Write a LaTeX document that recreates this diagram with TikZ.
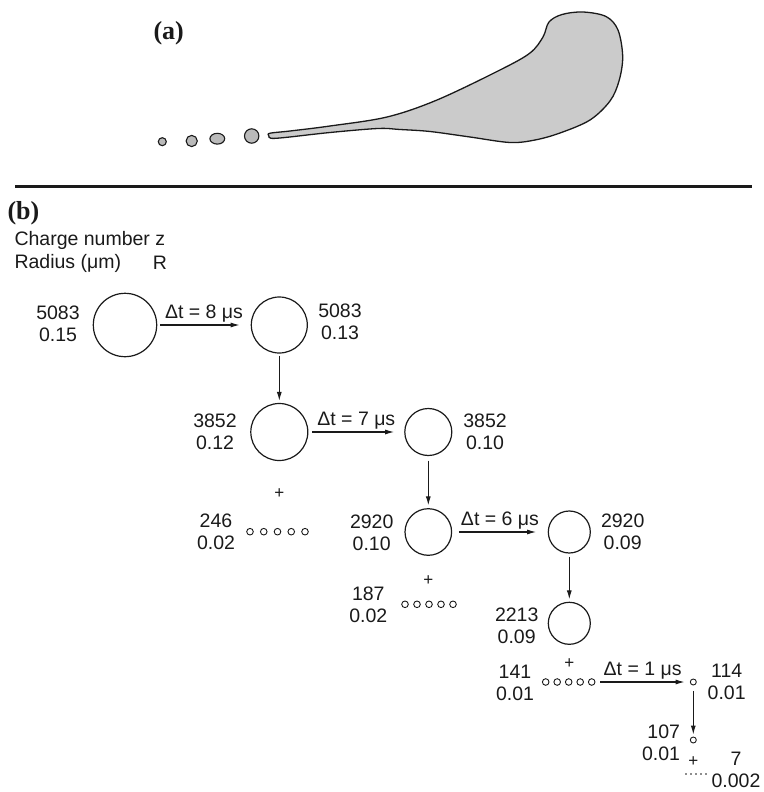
\documentclass[tikz,border=0pt]{standalone}
\usepackage{fontspec}
\setmainfont{Liberation Sans}
\newfontfamily\panelfont{Liberation Serif}
\usetikzlibrary{arrows.meta}

\begin{document}
\begin{tikzpicture}[x=1pt,y=-1pt,font=\fontsize{19.5}{22}\selectfont,
  drop/.style={circle,draw=ink,line width=1.2pt,inner sep=0pt},
  flow/.style={draw=ink,line width=1.1pt,-{Latex[length=9pt,width=5pt]}},
  dt/.style={midway,above,inner sep=2pt,text=ink},
  val/.style={align=center,text=ink},
  dot/.style={draw=ink,line width=0.9pt},
  row/.style={inner sep=0pt,minimum height=7pt},
  plus/.style={font=\fontsize{17}{17}\selectfont,text=ink},
  panel/.style={anchor=west,font=\panelfont\bfseries\fontsize{26}{26}\selectfont,text=ink}]
\definecolor{ink}{HTML}{1A1A1A}\definecolor{liquid}{HTML}{CBCBCB}
\definecolor{bead}{HTML}{BABABA}
\useasboundingbox (0,0) rectangle (763,792);
% (a) jet with its satellite droplets
\node[panel] (pa) at (150,33) {(a)};
\filldraw[fill=liquid,draw=ink,line width=1.3pt] plot[smooth cycle,tension=0.55] coordinates {
  (270,133.2) (290,131) (330,126) (387,117) (437,100) (500,70) (530,53) (543,37)
  (549,22) (562,14.5) (583,12) (606,16.5) (618,30) (622.7,56.7) (619,81) (610,101)
  (590,120) (560,133) (535,140) (510,142.5) (470,137) (430,131.5) (400,129.5)
  (378,128.5) (330,132.5) (285,137.5) (271,138.3) (268.8,135.8)};
\filldraw[fill=bead,draw=ink,line width=1.1pt] (162.3,141.7) circle (4);
\filldraw[fill=bead,draw=ink,line width=1.1pt] (191.7,141) circle (5.6);
\filldraw[fill=bead,draw=ink,line width=1.1pt] (217.3,138.7) ellipse (7.4 and 5.4);
\filldraw[fill=bead,draw=ink,line width=1.1pt] (251.7,136) circle (7.2);
\draw[ink,line width=3pt] (15,186) -- (752,186);
% (b) fission cascade
\node[panel] (pb) at (4,213) {(b)};
\node[anchor=west,text=ink] (hz) at (11,240) {Charge number z};
\node[anchor=west,text=ink] (hr) at (11,263) {Radius (μm)};
\node[text=ink] (hR) at (160,263) {R};
\node[drop,minimum size=63.4pt] (c1) at (125,325) {};
\node[drop,minimum size=56pt] (c2) at (279.3,325) {};
\node[drop,minimum size=57pt] (c3) at (279.3,432) {};
\node[drop,minimum size=47pt] (c4) at (428.3,432) {};
\node[drop,minimum size=46.6pt] (c5) at (428.3,532) {};
\node[drop,minimum size=42pt] (c6) at (569.3,532) {};
\node[drop,minimum size=42pt] (c7) at (569.3,623.3) {};
\node[drop,minimum size=6pt,line width=0.9pt] (s1) at (693.3,682) {};
\node[drop,minimum size=6pt,line width=0.9pt] (s2) at (693.3,740) {};
\node[val] (v1) at (58,324) {5083\\0.15};
\node[val] (v2) at (340,321.5) {5083\\0.13};
\node[val] (v3) at (215,432) {3852\\0.12};
\node[val] (v4) at (485,432) {3852\\0.10};
\node[val] (v5) at (216,532) {246\\0.02};
\node[val] (v6) at (371.7,533) {2920\\0.10};
\node[val] (v7) at (368.3,605) {187\\0.02};
\node[val] (v8) at (622.7,532) {2920\\0.09};
\node[val] (v9) at (516.7,626) {2213\\0.09};
\node[val] (v10) at (515,682.5) {141\\0.01};
\node[val] (v11) at (726.7,682) {114\\0.01};
\node[val,align=right] (v12) at (661,742.5) {107\\0.01};
\node[val] (v13) at (736,769.5) {7\\0.002};
\node[plus] (p1) at (279.3,494) {+};
\node[plus] (p2) at (428.3,581) {+};
\node[plus] (p3) at (569.3,664) {+};
\node[plus] (p4) at (693.3,762) {+};
% rows of offspring droplets
\node[row,minimum width=62pt] (r1) at (277.5,531.7) {};
\foreach \i in {-2,...,2} \draw[dot] (277.5+13.75*\i,531.7) circle (3.3);
\node[row,minimum width=55pt] (r2) at (429,604.3) {};
\foreach \i in {-2,...,2} \draw[dot] (429+12*\i,604.3) circle (3.3);
\node[row,minimum width=53pt] (r3) at (568.7,682) {};
\foreach \i in {-2,...,2} \draw[dot] (568.7+11.5*\i,682) circle (3.3);
\foreach \i in {0,...,4} \fill[ink] (686+5*\i,774) circle (0.9);
% evolution arrows
\draw[flow,shorten <=3pt,shorten >=11pt] (c1) -- node[dt] {Δt = 8 μs} (c2);
\draw[flow,shorten <=2pt,shorten >=2pt] (c2) -- (c3);
\draw[flow,shorten <=4pt,shorten >=10pt] (c3) -- node[dt] {Δt = 7 μs} (c4);
\draw[flow,shorten <=4.5pt,shorten >=2.7pt] (c4) -- (c5);
\draw[flow,shorten <=6.7pt,shorten >=11.6pt] (c5) -- node[dt] {Δt = 6 μs} (c6);
\draw[flow,shorten <=3pt,shorten >=2.3pt] (c6) -- (c7);
\draw[flow,shorten <=5pt,shorten >=5.3pt] (r3) -- node[dt] {Δt = 1 μs} (s1);
\draw[flow,shorten <=5.3pt,shorten >=2pt] (s1) -- (s2);
\end{tikzpicture}
\end{document}
